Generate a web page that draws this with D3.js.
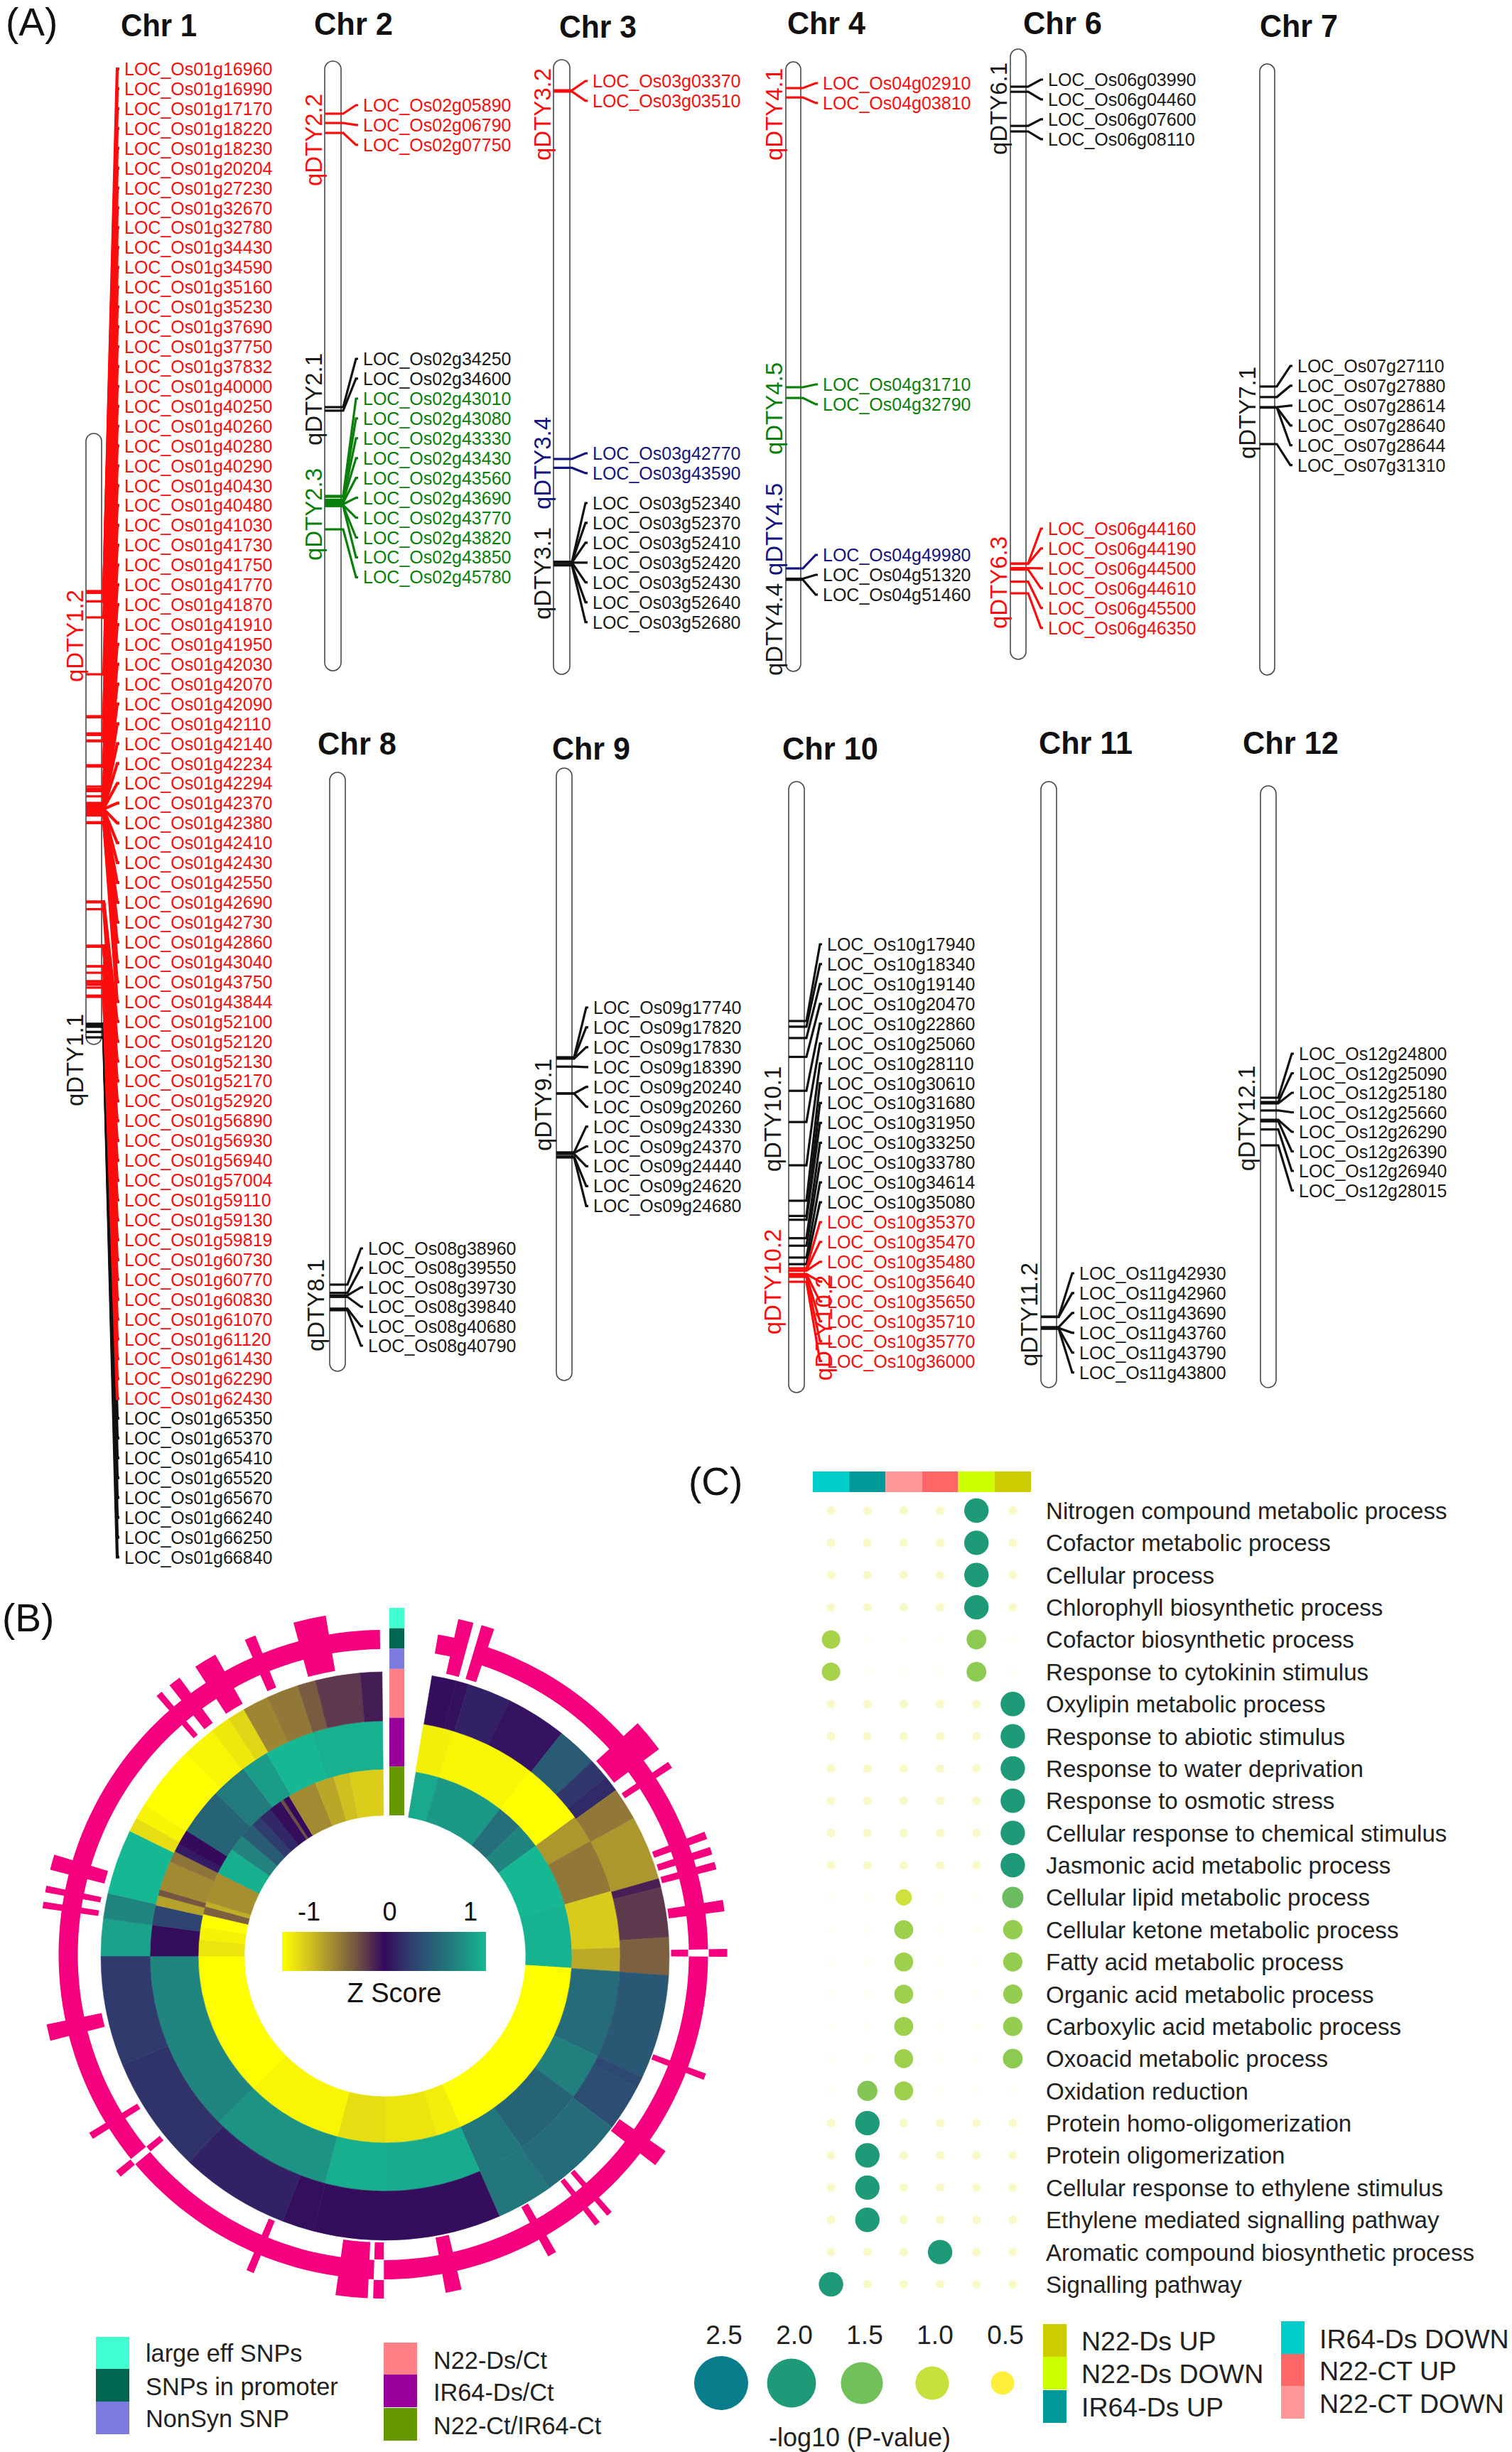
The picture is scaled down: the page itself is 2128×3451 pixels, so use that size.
<!DOCTYPE html>
<html><head><meta charset="utf-8">
<script src="https://cdn.jsdelivr.net/npm/d3@7/dist/d3.min.js"></script>
<style>html,body{margin:0;padding:0;background:#fff}svg{display:block}text{font-family:"Liberation Sans",Arial,sans-serif}</style>
</head><body><svg id="c" width="2128" height="3451" viewBox="0 0 2128 3451"></svg>
<script>
/* ---------- (A) gene loci, by chromosome and QTL colour ---------- */
const chr1Red=["16960","16990","17170","18220","18230","20204","27230","32670","32780","34430","34590","35160","35230","37690","37750","37832","40000","40250","40260","40280","40290","40430","40480","41030","41730","41750","41770","41870","41910","41950","42030","42070","42090","42110","42140","42234","42294","42370","42380","42410","42430","42550","42690","42730","42860","43040","43750","43844","52100","52120","52130","52170","52920","56890","56930","56940","57004","59110","59130","59819","60730","60770","60830","61070","61120","61430","62290","62430"];
const chr1Black=["65350","65370","65410","65520","65670","66240","66250","66840"];
const chr2Red=["05890","06790","07750"];
const chr2Black=["34250","34600"];
const chr2Green=["43010","43080","43330","43430","43560","43690","43770","43820","43850","45780"];
const chr3Red=["03370","03510"];
const chr3Blue=["42770","43590"];
const chr3Black=["52340","52370","52410","52420","52430","52640","52680"];
const chr4Red=["02910","03810"];
const chr4Green=["31710","32790"];
const chr4Blue=["49980"];
const chr4Black=["51320","51460"];
const chr6BlackA=["03990","04460","07600","08110"];
const chr6Red=["44160","44190","44500","44610","45500","46350"];
const chr7Black=["27110","27880","28614","28640","28644","31310"];
const chr8Black=["38960","39550","39730","39840","40680","40790"];
const chr9Black=["17740","17820","17830","18390","20240","20260","24330","24370","24440","24620","24680"];
const chr10Black=["17940","18340","19140","20470","22860","25060","28110","30610","31680","31950","33250","33780","34614","35080"];
const chr10Red=["35370","35470","35480","35640","35650","35710","35770","36000"];
const chr11Black=["42930","42960","43690","43760","43790","43800"];
const chr12Black=["24800","25090","25180","25660","26290","26390","26940","28015"];

const RED="#fb0d0d",GREEN="#0b7f0b",BLUE="#14147f",BLACK="#111";

/* chromosome layout: tube box, label column, piecewise locus->y anchors */
const chromosomes=[
 {id:"01",title:"Chr 1",tx:170,tw:107,ty:51,x0:121,x1:143,top:610,bottom:1470,tipX:167,labelX:175,loci:[16960,27230,32670,37690,40000,52100,56890,65350,66840],ys:[832,949,1008,1077,1107,1269,1331,1441,1460]},
 {id:"02",title:"Chr 2",tx:442,tw:111,ty:49,x0:457,x1:480,top:86,bottom:944,tipX:503,labelX:511,loci:[5890,34250,43010,45780],ys:[160,573,698,745]},
 {id:"03",title:"Chr 3",tx:787,tw:109,ty:53,x0:779,x1:802,top:84,bottom:949,tipX:826,labelX:834,loci:[3440,42770,52500],ys:[128,646,793]},
 {id:"04",title:"Chr 4",tx:1108,tw:110,ty:48,x0:1106,x1:1127,top:87,bottom:945,tipX:1150,labelX:1158,loci:[2910,31710,49980,51460],ys:[124,545,800,816]},
 {id:"06",title:"Chr 6",tx:1440,tw:111,ty:48,x0:1422,x1:1444,top:69,bottom:928,tipX:1467,labelX:1475,loci:[3990,8110,44160,46350],ys:[122,185,793,835]},
 {id:"07",title:"Chr 7",tx:1773,tw:110,ty:52,x0:1773,x1:1794,top:90,bottom:950,tipX:1818,labelX:1826,loci:[27110,31310],ys:[544,625]},
 {id:"08",title:"Chr 8",tx:447,tw:111,ty:1062,x0:464,x1:486,top:1087,bottom:1930,tipX:510,labelX:518,loci:[38960,40790],ys:[1808,1844]},
 {id:"09",title:"Chr 9",tx:777,tw:110,ty:1069,x0:783,x1:805,top:1081,bottom:1943,tipX:827,labelX:835,loci:[17740,24680],ys:[1488,1629]},
 {id:"10",title:"Chr 10",tx:1101,tw:135,ty:1069,x0:1110,x1:1132,top:1100,bottom:1960,tipX:1156,labelX:1164,loci:[17940,35370,36000],ys:[1437,1785,1804]},
 {id:"11",title:"Chr 11",tx:1462,tw:132,ty:1061,x0:1465,x1:1487,top:1100,bottom:1953,tipX:1511,labelX:1519,loci:[42930,43800],ys:[1853,1870]},
 {id:"12",title:"Chr 12",tx:1749,tw:135,ty:1061,x0:1774,x1:1796,top:1106,bottom:1953,tipX:1820,labelX:1828,loci:[24800,28015],ys:[1545,1612]}
];
const geneGroups=[
 {chr:"01",color:BLACK,genes:chr1Black,labelTop:1996},
 {chr:"01",color:RED,genes:chr1Red,labelTop:97},
 {chr:"02",color:RED,genes:chr2Red,labelTop:148},
 {chr:"02",color:BLACK,genes:chr2Black,labelTop:505},
 {chr:"02",color:GREEN,genes:chr2Green,labelTop:561},
 {chr:"03",color:RED,genes:chr3Red,labelTop:114},
 {chr:"03",color:BLUE,genes:chr3Blue,labelTop:638},
 {chr:"03",color:BLACK,genes:chr3Black,labelTop:708},
 {chr:"04",color:RED,genes:chr4Red,labelTop:117},
 {chr:"04",color:GREEN,genes:chr4Green,labelTop:541},
 {chr:"04",color:BLUE,genes:chr4Blue,labelTop:781},
 {chr:"04",color:BLACK,genes:chr4Black,labelTop:809},
 {chr:"06",color:BLACK,genes:chr6BlackA,labelTop:112},
 {chr:"06",color:RED,genes:chr6Red,labelTop:744},
 {chr:"07",color:BLACK,genes:chr7Black,labelTop:515},
 {chr:"08",color:BLACK,genes:chr8Black,labelTop:1757},
 {chr:"09",color:BLACK,genes:chr9Black,labelTop:1418},
 {chr:"10",color:BLACK,genes:chr10Black,labelTop:1329},
 {chr:"10",color:RED,genes:chr10Red,labelTop:1720},
 {chr:"11",color:BLACK,genes:chr11Black,labelTop:1792},
 {chr:"12",color:BLACK,genes:chr12Black,labelTop:1483}
];
const qtlLabels=[
 ["qDTY1.2",RED,105,895],["qDTY1.1",BLACK,105,1492],["qDTY2.2",RED,441,197],["qDTY2.1",BLACK,441,562],["qDTY2.3",GREEN,441,724],
 ["qDTY3.2",RED,763,161],["qDTY3.4",BLUE,763,652],["qDTY3.1",BLACK,763,807],["qDTY4.1",RED,1089,161],["qDTY4.5",GREEN,1089,575],
 ["qDTY4.5",BLUE,1089,745],["qDTY4.4",BLACK,1089,886],["qDTY6.1",BLACK,1405,153],["qDTY6.3",RED,1405,820],["qDTY7.1",BLACK,1755,581],
 ["qDTY8.1",BLACK,444,1837],["qDTY9.1",BLACK,764,1555],["qDTY10.1",BLACK,1087,1575],["qDTY10.2",RED,1087,1804],["qDTY10.2",RED,1159,1869],
 ["qDTY11.2",BLACK,1448,1850],["qDTY12.1",BLACK,1754,1574]
];
const panelLabels=[["(A)",8,50],["(B)",3,2296],["(C)",969,2104]];

/* ---------- (B) circular heat map: [start angle of sector in degrees, z score] ---------- */
const ringOuter=[[9.5,.02],[14.5,.04],[17.1,.12],[26,.05],[38.4,.45],[46.7,.22],[51,.16],[54.3,-.42],[61,-.55],[74.2,-.08],[76,-.17],[86.2,-.32],[93.9,.42],[115.3,.32],[117.6,.36],[127,.55],[144.7,.62],[156.3,.02],[194.7,.03],[201.1,.12],[223.6,.2],[247.5,.24],[270,.88],[277.6,.72],[282.8,1],[296.1,-.85],[299,-.95],[302.2,-1],[315.6,-.96],[322.5,-.9],[326.6,-.82],[330.2,-.48],[335.6,-.42],[342.1,-.3],[345.8,-.17],[355,-.07]];
const ringMiddle=[[9.4,-.93],[16.9,-.96],[38,-1],[53.8,-.55],[60.8,-.42],[74,-.77],[88,-.63],[93.8,.55],[115.2,.68],[126.7,.5],[144.4,.62],[156.2,.93],[180,.95],[194.9,.8],[225,.72],[270,.02],[277.6,.3],[282.5,-.6],[285,-.28],[286.5,-.5],[293.7,-.4],[296.5,.08],[298.5,.0],[302.3,.5],[313.9,.65],[322.9,.85],[329.7,1],[341.8,.96]];
const ringInner=[[9.5,.92],[16.7,.83],[38,.58],[46,.72],[53.8,1],[74,.97],[93.7,-1],[156.1,-.92],[164,-.88],[180,-.85],[194.8,-.96],[225,-1],[270,-.88],[275,-.94],[279,-1],[283,-.32],[285.5,-.65],[287,-.52],[296.4,.95],[304.8,.7],[310,.45],[314.6,.25],[318,.15],[322,.02],[326,-.25],[327,0],[329,-.5],[338,-.62],[344,-.72],[349,-.78]];
const ringEnd=359.4;
/* pink track: [angle, angular width], and the notches cut in the band */
const trackTicks=[[13.9,2.6],[17.7,2.2],[50.5,5.6],[56.5,1.2],[69.7,1.3],[72.4,1.3],[75,1.3],[81.8,1.9],[89.7,1.3],[110.8,1.1],[126.3,2.9],[138.9,1],[141.5,1],[150.6,1.5],[168.2,2.7],[180.8,1.8],[185.3,5.4],[202.8,1.3],[230.4,1.2],[238.2,1.2],[256.9,2.8],[278.3,1.1],[281,1.1],[285.6,2.6],[319.3,1.1],[322.6,2.1],[328.8,3.9],[337.2,1.9],[347.6,5.5]];
const trackNotches=[[15.9,1.4],[89.7,1.3],[180.8,1.8],[230.4,1.2]];
const stripColors=["#40ffd0","#00664f","#7b7be0","#ff8087","#990099","#669900"];
const stripHeights=[1,1,1,2.4,2.4,2.4];
const legendB=[["large eff SNPs","#40ffd0",135,3289,3312],["SNPs in promoter","#00664f",135,3334,3359],["NonSyn SNP","#7b7be0",135,3380,3404],["N22-Ds/Ct","#ff8087",540,3297,3322],["IR64-Ds/Ct","#990099",540,3342,3367],["N22-Ct/IR64-Ct","#669900",540,3389,3414]];
const zTicks=[-1,0,1];
const zStops=[-1,-.75,-.5,-.25,0,.25,.5,.75,1];
const zColors=["#ffff00","#d6c61e","#a18a32","#6e4f45","#35095c","#2f3d6e","#276377","#1f8a80","#16b893"];

/* ---------- (C) GO enrichment bubble matrix ---------- */
const goTerms=["Nitrogen compound metabolic process","Cofactor metabolic process","Cellular process","Chlorophyll biosynthetic process","Cofactor biosynthetic process","Response to cytokinin stimulus","Oxylipin metabolic process","Response to abiotic stimulus","Response to water deprivation","Response to osmotic stress","Cellular response to chemical stimulus","Jasmonic acid metabolic process","Cellular lipid metabolic process","Cellular ketone metabolic process","Fatty acid metabolic process","Organic acid metabolic process","Carboxylic acid metabolic process","Oxoacid metabolic process","Oxidation reduction","Protein homo-oligomerization","Protein oligomerization","Cellular response to ethylene stimulus","Ethylene mediated signalling pathway","Aromatic compound biosynthetic process","Signalling pathway"];
const goColumns=["IR64-Ds DOWN","IR64-Ds UP","N22-CT DOWN","N22-CT UP","N22-Ds DOWN","N22-Ds UP"];
const goColumnColors=["#00cccc","#009999","#ff9999","#ff6666","#ccff00","#cccc00"];
const irDsDown=[.1,.1,.1,.1,1.2,1.2,.1,.1,.1,.1,.1,.1,0,0,0,0,0,0,0,.1,.1,.1,.1,.1,2];
const irDsUp=[.1,.1,.1,.1,0,0,.1,.1,.1,.1,.1,.1,0,0,0,0,0,0,1.4,2,2,2,2,.1,.1];
const n22CtDown=[.1,.1,.1,.1,0,0,.1,.1,.1,.1,.1,.1,.95,1.25,1.25,1.25,1.25,1.25,1.25,.1,.1,.1,.1,.1,.1];
const n22CtUp=[.1,.1,.1,.1,0,0,.1,.1,.1,.1,.1,.1,0,0,0,0,0,0,0,.1,.1,.1,.1,2,.1];
const n22DsDown=[2,2,2,2,1.35,1.35,.1,.1,.1,.1,.1,.1,0,0,0,0,0,0,0,.1,.1,.1,.1,.1,.1];
const n22DsUp=[.1,.1,.1,.1,0,0,2,2,2,2,2,2,1.55,1.3,1.3,1.3,1.3,1.35,0,.1,.1,.1,.1,.1,.1];
const sizeLegend=[2.5,2,1.5,1,.5];
const legendCols=[["N22-Ds UP","#cccc00",1468,3271,3294],["N22-Ds DOWN","#ccff00",1468,3317,3340],["IR64-Ds UP","#009999",1468,3364,3387],["IR64-Ds DOWN","#00cccc",1803,3267,3291],["N22-CT UP","#ff6666",1803,3313,3336],["N22-CT DOWN","#ff9999",1803,3358,3382]];

/* ---------- drawing ---------- */
const svg=d3.select("#c");
svg.append("rect").attr("width",2128).attr("height",3451).attr("fill","#fff");
panelLabels.forEach(([t,x,y])=>svg.append("text").attr("x",x).attr("y",y).attr("font-size",55).attr("fill","#111").text(t));

/* panel A */
const A=svg.append("g");
const chromById=new Map(chromosomes.map(c=>[c.id,c]));
chromosomes.forEach(c=>{
  c.y=d3.scaleLinear().domain(c.loci).range(c.ys);
  A.append("text").attr("x",c.tx).attr("y",c.ty).attr("font-size",44).attr("font-weight","bold").attr("fill","#111")
    .attr("textLength",c.tw).attr("lengthAdjust","spacingAndGlyphs").text(c.title);
  A.append("rect").attr("x",c.x0).attr("y",c.top).attr("width",c.x1-c.x0).attr("height",c.bottom-c.top)
    .attr("rx",(c.x1-c.x0)/2).attr("fill","#fff").attr("stroke","#4a4a4a").attr("stroke-width",1.6);
});
const link=d3.line();
const labelStep=27.93;
geneGroups.forEach(g=>{
  const c=chromById.get(g.chr);
  const step=g.chr==="12"?27.5:g.chr==="08"?27.4:labelStep;
  const sw=g.chr==="01"?4.2:3.2;
  const ly=d3.scaleLinear().domain([0,1]).range([g.labelTop,g.labelTop+step]);
  const lay=A.append("g");
  g.genes.forEach((gene,i)=>{
    const ty=c.y(+gene), yy=ly(i);
    lay.append("line").attr("x1",c.x0).attr("x2",c.x1+1).attr("y1",ty).attr("y2",ty).attr("stroke",g.color).attr("stroke-width",3.2);
    lay.append("path").attr("d",link([[c.x1,ty],[c.x1+3,ty],[c.tipX-2,yy],[c.tipX+1,yy]])).attr("fill","none").attr("stroke",g.color).attr("stroke-width",sw);
    lay.append("text").attr("x",c.labelX).attr("y",yy).attr("dy","0.36em").attr("font-size",25).attr("fill",g.color==BLACK?"#1a1a1a":g.color)
      .text("LOC_Os"+g.chr+"g"+gene);
  });
});
qtlLabels.forEach(([t,col,x,y])=>{
  A.append("text").attr("transform",`translate(${x},${y}) rotate(-90)`).attr("text-anchor","middle").attr("dy","0.36em")
    .attr("font-size",33).attr("fill",col==BLACK?"#1a1a1a":col).text(t);
});

/* panel B */
const CX=542,CY=2753, TX=539.5,TY=2751;
const zScale=d3.scaleLinear().domain(zStops).range(zColors).clamp(true);
const rad=d=>d*Math.PI/180;
const B=svg.append("g").attr("transform",`translate(${CX},${CY})`);
[[ringInner,198,263],[ringMiddle,263,331],[ringOuter,331,400]].forEach(([ring,r0,r1])=>{
  const arc=d3.arc().innerRadius(r0).outerRadius(r1);
  B.append("g").selectAll("path").data(ring).join("path")
    .attr("d",(d,i)=>arc({startAngle:rad(d[0]),endAngle:rad(i+1<ring.length?ring[i+1][0]:ringEnd)}))
    .attr("fill",d=>zScale(d[1])).attr("stroke",d=>zScale(d[1])).attr("stroke-width",.6);
});
const T=svg.append("g").attr("transform",`translate(${TX},${TY})`);
const PINK="#f5007f";
T.append("path").attr("d",d3.arc()({innerRadius:430,outerRadius:457,startAngle:rad(9.7),endAngle:rad(ringEnd)})).attr("fill",PINK);
const tickArc=d3.arc().innerRadius(405).outerRadius(484);
T.append("g").selectAll("path").data(trackTicks).join("path")
  .attr("d",d=>tickArc({startAngle:rad(d[0]-d[1]/2),endAngle:rad(d[0]+d[1]/2)})).attr("fill",PINK);
const notchArc=d3.arc().innerRadius(429).outerRadius(458);
T.append("g").selectAll("path").data(trackNotches).join("path")
  .attr("d",d=>notchArc({startAngle:rad(d[0]-d[1]/2),endAngle:rad(d[0]+d[1]/2)})).attr("fill","#fff");
/* strip in the gap */
const stripY=d3.scaleLinear().domain([0,d3.sum(stripHeights)]).range([2263,2555]);
let acc=0;
stripColors.forEach((col,i)=>{
  svg.append("rect").attr("x",548).attr("width",21).attr("y",stripY(acc)).attr("height",stripY(acc+stripHeights[i])-stripY(acc)).attr("fill",col);
  acc+=stripHeights[i];
});
/* colour bar */
const defs=svg.append("defs");
const lg=defs.append("linearGradient").attr("id","zg");
zStops.forEach((z,i)=>lg.append("stop").attr("offset",(z+1)/2).attr("stop-color",zColors[i]));
const zx=d3.scaleLinear().domain([-1,1]).range([397,684]);
svg.append("rect").attr("x",zx(-1)).attr("y",2719).attr("width",zx(1)-zx(-1)).attr("height",55).attr("fill","url(#zg)");
const zLabelX=d3.scaleLinear().domain([-1,1]).range([435,662]);
zTicks.forEach(z=>svg.append("text").attr("x",zLabelX(z)).attr("y",2703).attr("text-anchor","middle").attr("font-size",36).attr("fill","#111").text(d3.format("d")(z).replace("\u2212","-")));
svg.append("text").attr("x",555).attr("y",2818).attr("text-anchor","middle").attr("font-size",38).attr("fill","#111").text("Z Score");
const swatch=(arr,h,w,fs)=>arr.forEach(([t,col,x,y,cy])=>{
  svg.append("rect").attr("x",x).attr("y",y).attr("width",w).attr("height",h).attr("fill",col);
  svg.append("text").attr("x",x+w+(fs>36?21:23)).attr("y",cy).attr("dy","0.36em").attr("font-size",fs).attr("font-family","'Open Sans'").attr("fill","#222").text(t);
});
swatch(legendB,46,47,34.3);

/* panel C */
const goX=d3.scaleBand().domain(goColumns).range([1144,1451]);
const goY=d3.scalePoint().domain(goTerms).range([2126,3215]);
const rScale=d3.scaleLinear().domain([0,.5,1,1.5,2,2.5]).range([5.4,8.2,11.8,14.8,17.2,19]);
const colScale=d3.scaleLinear().domain([0,.1,.5,1,1.5,2,2.5]).range(["#fffff6","#f9f9c8","#ffee3a","#c8e03c","#72c05c","#1f9a78","#0a7d8c"]);
goColumns.forEach((col,i)=>svg.append("rect").attr("x",goX(col)).attr("y",2071).attr("width",goX.bandwidth()).attr("height",29).attr("fill",goColumnColors[i]));
const matrix=[irDsDown,irDsUp,n22CtDown,n22CtUp,n22DsDown,n22DsUp];
matrix.forEach((vals,ci)=>{
  svg.append("g").selectAll("circle").data(vals).join("circle")
    .attr("cx",goX(goColumns[ci])+goX.bandwidth()/2).attr("cy",(d,i)=>goY(goTerms[i]))
    .attr("r",d=>rScale(d)).attr("fill",d=>colScale(d));
});
goTerms.forEach(t=>svg.append("text").attr("x",1472).attr("y",goY(t)).attr("dy","0.36em").attr("font-size",33.1).attr("font-family","'Open Sans'").attr("fill","#222").text(t));
const sizeX=d3.scalePoint().domain(sizeLegend).range([1015,1411]);
sizeLegend.forEach(v=>{
  svg.append("circle").attr("cx",sizeX(v)).attr("cy",3354).attr("r",rScale(v)*2).attr("fill",colScale(v));
  svg.append("text").attr("x",sizeX(v)+4).attr("y",3299).attr("text-anchor","middle").attr("font-size",37).attr("fill","#222").text(d3.format(".1f")(v));
});
svg.append("text").attr("x",1210).attr("y",3443).attr("text-anchor","middle").attr("font-size",36).attr("fill","#222").text("-log10 (P-value)");
swatch(legendCols,46,33,37.5);
</script></body></html>
